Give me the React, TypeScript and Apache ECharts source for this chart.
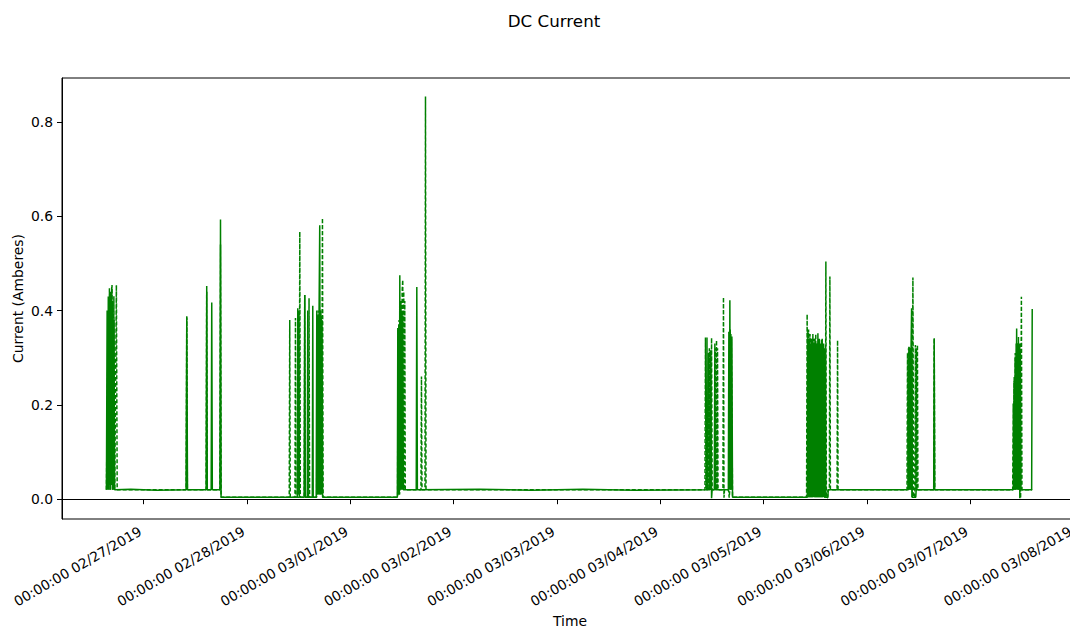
import React, { useEffect, useRef } from "react";
import * as echarts from "echarts";

// ---------- data ----------
const chartTitle = "DC Current";
const xAxisName = "Time";
const yAxisName = "Current (Amberes)";

const xTickDates = [
  "2019-02-27 00:00", "2019-02-28 00:00", "2019-03-01 00:00", "2019-03-02 00:00",
  "2019-03-03 00:00", "2019-03-04 00:00", "2019-03-05 00:00", "2019-03-06 00:00",
  "2019-03-07 00:00", "2019-03-08 00:00",
];
const xRange = ["2019-02-26 05:01", "2019-03-08 01:01"];
const yTicks = [0, 0.2, 0.4, 0.6, 0.8];
const yRange = [-0.042, 0.893];

// solid series: [time, current]
const solidPoints: [string, number][] = [
  ["2019-02-26 15:20", 0.02], ["2019-02-26 15:30", 0.40], ["2019-02-26 15:38", 0.02],
  ["2019-02-26 15:46", 0.43], ["2019-02-26 15:54", 0.03], ["2019-02-26 16:02", 0.41],
  ["2019-02-26 16:10", 0.02], ["2019-02-26 16:18", 0.44], ["2019-02-26 16:26", 0.03],
  ["2019-02-26 16:34", 0.45], ["2019-02-26 16:42", 0.02], ["2019-02-26 16:50", 0.42],
  ["2019-02-26 16:58", 0.02], ["2019-02-26 17:06", 0.38], ["2019-02-26 17:14", 0.02],
  ["2019-02-26 21:00", 0.021], ["2019-02-27 03:00", 0.019], ["2019-02-27 09:50", 0.02],
  ["2019-02-27 10:00", 0.388], ["2019-02-27 10:10", 0.02], ["2019-02-27 14:30", 0.02],
  ["2019-02-27 14:38", 0.44], ["2019-02-27 14:46", 0.02], ["2019-02-27 15:40", 0.02],
  ["2019-02-27 15:48", 0.417], ["2019-02-27 15:56", 0.02], ["2019-02-27 17:42", 0.02],
  ["2019-02-27 17:50", 0.593], ["2019-02-27 17:58", 0.004],
  ["2019-02-28 11:40", 0.004], ["2019-02-28 11:47", 0.405], ["2019-02-28 11:54", 0.01],
  ["2019-02-28 12:02", 0.40], ["2019-02-28 12:10", 0.004], ["2019-02-28 13:16", 0.004],
  ["2019-02-28 13:24", 0.433], ["2019-02-28 13:32", 0.004], ["2019-02-28 14:00", 0.004],
  ["2019-02-28 14:06", 0.40], ["2019-02-28 14:12", 0.004], ["2019-02-28 15:10", 0.004],
  ["2019-02-28 15:16", 0.41], ["2019-02-28 15:22", 0.004], ["2019-02-28 16:04", 0.004],
  ["2019-02-28 16:12", 0.40], ["2019-02-28 16:20", 0.01], ["2019-02-28 16:28", 0.39],
  ["2019-02-28 16:36", 0.01], ["2019-02-28 16:44", 0.40], ["2019-02-28 16:53", 0.581],
  ["2019-02-28 17:01", 0.01], ["2019-02-28 17:09", 0.40], ["2019-02-28 17:17", 0.01],
  ["2019-02-28 17:25", 0.38], ["2019-02-28 17:33", 0.004],
  ["2019-03-01 10:55", 0.004], ["2019-03-01 11:01", 0.363], ["2019-03-01 11:08", 0.01],
  ["2019-03-01 11:15", 0.37], ["2019-03-01 11:22", 0.01], ["2019-03-01 11:29", 0.475],
  ["2019-03-01 11:36", 0.02], ["2019-03-01 11:43", 0.42], ["2019-03-01 11:50", 0.02],
  ["2019-03-01 11:57", 0.40], ["2019-03-01 12:04", 0.02], ["2019-03-01 12:11", 0.39],
  ["2019-03-01 12:18", 0.02], ["2019-03-01 15:18", 0.02], ["2019-03-01 15:26", 0.45],
  ["2019-03-01 15:34", 0.02],
  ["2019-03-02 06:00", 0.021], ["2019-03-02 18:00", 0.019], ["2019-03-03 06:00", 0.021],
  ["2019-03-03 18:00", 0.019],
  ["2019-03-04 10:42", 0.02], ["2019-03-04 10:50", 0.343], ["2019-03-04 10:58", 0.02],
  ["2019-03-04 11:32", 0.02], ["2019-03-04 11:40", 0.316], ["2019-03-04 11:54", 0.002],
  ["2019-03-04 12:02", 0.02], ["2019-03-04 12:32", 0.02], ["2019-03-04 12:40", 0.33],
  ["2019-03-04 12:48", 0.02], ["2019-03-04 15:48", 0.02], ["2019-03-04 15:55", 0.355],
  ["2019-03-04 16:02", 0.02], ["2019-03-04 16:09", 0.422], ["2019-03-04 16:16", 0.02],
  ["2019-03-04 16:23", 0.35], ["2019-03-04 16:30", 0.02], ["2019-03-04 16:37", 0.345],
  ["2019-03-04 16:46", 0.004],
  ["2019-03-05 10:08", 0.004], ["2019-03-05 10:16", 0.358], ["2019-03-05 10:26", 0.004],
  ["2019-03-05 10:36", 0.34], ["2019-03-05 10:46", 0.004], ["2019-03-05 10:56", 0.33],
  ["2019-03-05 11:06", 0.004], ["2019-03-05 11:16", 0.34], ["2019-03-05 11:26", 0.004],
  ["2019-03-05 11:36", 0.33], ["2019-03-05 11:46", 0.004], ["2019-03-05 11:56", 0.34],
  ["2019-03-05 12:06", 0.004], ["2019-03-05 12:16", 0.33], ["2019-03-05 12:26", 0.004],
  ["2019-03-05 12:36", 0.352], ["2019-03-05 12:46", 0.004], ["2019-03-05 12:56", 0.34],
  ["2019-03-05 13:06", 0.004], ["2019-03-05 13:16", 0.33], ["2019-03-05 13:26", 0.004],
  ["2019-03-05 13:36", 0.34], ["2019-03-05 13:46", 0.004], ["2019-03-05 13:56", 0.33],
  ["2019-03-05 14:06", 0.004], ["2019-03-05 14:16", 0.32], ["2019-03-05 14:26", 0.004],
  ["2019-03-05 14:55", 0.004], ["2019-03-05 15:00", 0.02],
  ["2019-03-06 09:36", 0.02], ["2019-03-06 09:44", 0.323], ["2019-03-06 09:52", 0.02],
  ["2019-03-06 10:00", 0.32], ["2019-03-06 10:08", 0.02], ["2019-03-06 10:15", 0.33],
  ["2019-03-06 10:22", 0.405], ["2019-03-06 10:30", 0.004], ["2019-03-06 11:20", 0.004],
  ["2019-03-06 11:26", 0.02], ["2019-03-06 15:30", 0.02], ["2019-03-06 15:37", 0.341],
  ["2019-03-06 15:44", 0.02],
  ["2019-03-07 10:00", 0.02], ["2019-03-07 10:10", 0.25], ["2019-03-07 10:18", 0.02],
  ["2019-03-07 10:26", 0.30], ["2019-03-07 10:34", 0.02], ["2019-03-07 10:46", 0.362],
  ["2019-03-07 10:54", 0.03], ["2019-03-07 11:02", 0.33], ["2019-03-07 11:10", 0.02],
  ["2019-03-07 11:18", 0.32], ["2019-03-07 11:30", 0.002], ["2019-03-07 11:38", 0.31],
  ["2019-03-07 11:46", 0.02], ["2019-03-07 14:15", 0.02], ["2019-03-07 14:23", 0.403],
];

// dashed series: [time, current]
const dashedPoints: [string, number][] = [
  ["2019-02-26 15:20", 0.02], ["2019-02-26 15:40", 0.30], ["2019-02-26 15:50", 0.02],
  ["2019-02-26 16:02", 0.447], ["2019-02-26 16:14", 0.02], ["2019-02-26 16:38", 0.454],
  ["2019-02-26 16:50", 0.02], ["2019-02-26 17:04", 0.43], ["2019-02-26 17:16", 0.02],
  ["2019-02-26 17:39", 0.454], ["2019-02-26 17:50", 0.02],
  ["2019-02-27 09:52", 0.02], ["2019-02-27 10:00", 0.385], ["2019-02-27 10:08", 0.02],
  ["2019-02-27 14:30", 0.02], ["2019-02-27 14:38", 0.452], ["2019-02-27 14:46", 0.02],
  ["2019-02-27 17:42", 0.02], ["2019-02-27 17:50", 0.54], ["2019-02-27 17:58", 0.004],
  ["2019-02-28 09:48", 0.004], ["2019-02-28 09:55", 0.38], ["2019-02-28 10:02", 0.004],
  ["2019-02-28 11:08", 0.004], ["2019-02-28 11:15", 0.384], ["2019-02-28 11:22", 0.004],
  ["2019-02-28 12:08", 0.004], ["2019-02-28 12:15", 0.567], ["2019-02-28 12:22", 0.004],
  ["2019-02-28 13:17", 0.004], ["2019-02-28 13:24", 0.433], ["2019-02-28 13:31", 0.004],
  ["2019-02-28 14:17", 0.004], ["2019-02-28 14:24", 0.426], ["2019-02-28 14:31", 0.004],
  ["2019-02-28 16:10", 0.004], ["2019-02-28 16:17", 0.39], ["2019-02-28 16:24", 0.01],
  ["2019-02-28 16:31", 0.40], ["2019-02-28 16:38", 0.01], ["2019-02-28 16:45", 0.39],
  ["2019-02-28 16:52", 0.01], ["2019-02-28 16:59", 0.40], ["2019-02-28 17:06", 0.01],
  ["2019-02-28 17:13", 0.39], ["2019-02-28 17:20", 0.01], ["2019-02-28 17:31", 0.596],
  ["2019-02-28 17:40", 0.004],
  ["2019-03-01 10:58", 0.004], ["2019-03-01 11:05", 0.36], ["2019-03-01 11:12", 0.01],
  ["2019-03-01 11:19", 0.38], ["2019-03-01 11:26", 0.01], ["2019-03-01 11:33", 0.40],
  ["2019-03-01 11:40", 0.02], ["2019-03-01 11:47", 0.42], ["2019-03-01 11:54", 0.02],
  ["2019-03-01 12:01", 0.44], ["2019-03-01 12:10", 0.465], ["2019-03-01 12:17", 0.02],
  ["2019-03-01 12:24", 0.44], ["2019-03-01 12:31", 0.02], ["2019-03-01 12:38", 0.42],
  ["2019-03-01 12:45", 0.02], ["2019-03-01 16:24", 0.02], ["2019-03-01 16:31", 0.26],
  ["2019-03-01 16:38", 0.02], ["2019-03-01 17:20", 0.02], ["2019-03-01 17:27", 0.854],
  ["2019-03-01 17:34", 0.02],
  ["2019-03-04 10:22", 0.02], ["2019-03-04 10:29", 0.343], ["2019-03-04 10:36", 0.02],
  ["2019-03-04 11:02", 0.02], ["2019-03-04 11:09", 0.31], ["2019-03-04 11:16", 0.02],
  ["2019-03-04 11:23", 0.32], ["2019-03-04 11:30", 0.02], ["2019-03-04 11:37", 0.31],
  ["2019-03-04 11:44", 0.02], ["2019-03-04 11:54", 0.342], ["2019-03-04 12:02", 0.02],
  ["2019-03-04 12:40", 0.02], ["2019-03-04 12:47", 0.32], ["2019-03-04 12:54", 0.02],
  ["2019-03-04 13:03", 0.337], ["2019-03-04 13:10", 0.02], ["2019-03-04 13:17", 0.32],
  ["2019-03-04 13:24", 0.02], ["2019-03-04 14:33", 0.02], ["2019-03-04 14:40", 0.428],
  ["2019-03-04 14:47", 0.003], ["2019-03-04 14:54", 0.02], ["2019-03-04 15:50", 0.02],
  ["2019-03-04 16:00", 0.003], ["2019-03-04 16:08", 0.02], ["2019-03-04 16:14", 0.36],
  ["2019-03-04 16:20", 0.02], ["2019-03-04 16:30", 0.34], ["2019-03-04 16:46", 0.004],
  ["2019-03-05 09:58", 0.004], ["2019-03-05 10:06", 0.392], ["2019-03-05 10:16", 0.004],
  ["2019-03-05 10:26", 0.36], ["2019-03-05 10:36", 0.004], ["2019-03-05 10:46", 0.35],
  ["2019-03-05 10:56", 0.004], ["2019-03-05 11:06", 0.34], ["2019-03-05 11:16", 0.004],
  ["2019-03-05 11:26", 0.35], ["2019-03-05 11:36", 0.004], ["2019-03-05 11:46", 0.34],
  ["2019-03-05 11:56", 0.004], ["2019-03-05 12:06", 0.35], ["2019-03-05 12:16", 0.004],
  ["2019-03-05 12:26", 0.33], ["2019-03-05 12:36", 0.004], ["2019-03-05 12:46", 0.34],
  ["2019-03-05 12:56", 0.004], ["2019-03-05 13:06", 0.33], ["2019-03-05 13:16", 0.004],
  ["2019-03-05 13:26", 0.34], ["2019-03-05 13:36", 0.004], ["2019-03-05 13:46", 0.32],
  ["2019-03-05 13:56", 0.004], ["2019-03-05 14:20", 0.004], ["2019-03-05 14:27", 0.504],
  ["2019-03-05 14:34", 0.003], ["2019-03-05 14:50", 0.003], ["2019-03-05 14:57", 0.02],
  ["2019-03-05 15:16", 0.02], ["2019-03-05 15:23", 0.472], ["2019-03-05 15:30", 0.02],
  ["2019-03-05 17:03", 0.02], ["2019-03-05 17:10", 0.337], ["2019-03-05 17:17", 0.02],
  ["2019-03-06 09:18", 0.02], ["2019-03-06 09:25", 0.31], ["2019-03-06 09:32", 0.02],
  ["2019-03-06 09:39", 0.32], ["2019-03-06 09:46", 0.02], ["2019-03-06 09:53", 0.323],
  ["2019-03-06 10:00", 0.02], ["2019-03-06 10:07", 0.32], ["2019-03-06 10:14", 0.02],
  ["2019-03-06 10:21", 0.31], ["2019-03-06 10:28", 0.004], ["2019-03-06 10:40", 0.47],
  ["2019-03-06 10:50", 0.004], ["2019-03-06 11:08", 0.004], ["2019-03-06 11:15", 0.327],
  ["2019-03-06 11:22", 0.02], ["2019-03-06 11:29", 0.32], ["2019-03-06 11:36", 0.02],
  ["2019-03-06 11:43", 0.327], ["2019-03-06 11:50", 0.02], ["2019-03-06 15:30", 0.02],
  ["2019-03-06 15:37", 0.341], ["2019-03-06 15:44", 0.02],
  ["2019-03-07 09:51", 0.02], ["2019-03-07 09:58", 0.203], ["2019-03-07 10:05", 0.02],
  ["2019-03-07 10:12", 0.26], ["2019-03-07 10:19", 0.02], ["2019-03-07 10:26", 0.31],
  ["2019-03-07 10:33", 0.02], ["2019-03-07 10:40", 0.33], ["2019-03-07 10:47", 0.02],
  ["2019-03-07 10:54", 0.33], ["2019-03-07 11:01", 0.02], ["2019-03-07 11:11", 0.344],
  ["2019-03-07 11:20", 0.02], ["2019-03-07 11:30", 0.33], ["2019-03-07 11:41", 0.002],
  ["2019-03-07 11:52", 0.429], ["2019-03-07 12:00", 0.02], ["2019-03-07 14:23", 0.02],
];

// ---------- helpers ----------
function ts(s: string): number {
  const [d, t] = s.split(" ");
  const [y, m, dd] = d.split("-").map(Number);
  const [hh, mi] = (t || "00:00").split(":").map(Number);
  return new Date(y, m - 1, dd, hh, mi).getTime();
}
const pad = (n: number) => (n < 10 ? "0" + n : "" + n);
function fmtTime(v: number): string {
  const d = new Date(v);
  return `${pad(d.getHours())}:${pad(d.getMinutes())}:${pad(d.getSeconds())} ${pad(
    d.getMonth() + 1
  )}/${pad(d.getDate())}/${d.getFullYear()}`;
}

const FONT = "DejaVu Sans";
const GREEN = "#008000";

export default function App() {
  const ref = useRef<HTMLDivElement>(null);
  useEffect(() => {
    if (!ref.current) return;
    const chart = echarts.init(ref.current, undefined, { renderer: "svg" });
    const xTicks = xTickDates.map(ts);
    chart.setOption({
      animation: false,
      backgroundColor: "#fff",
      textStyle: { fontFamily: FONT },
      graphic: [
        {
          type: "text",
          x: 554,
          y: 21,
          style: {
            text: chartTitle,
            fontSize: 16.7,
            fontFamily: FONT,
            fill: "#000",
            textAlign: "center",
            textVerticalAlign: "middle",
          },
        },
      ],
      grid: {
        left: 62,
        right: 2,
        top: 78,
        bottom: 109,
        containLabel: false,
        outerBoundsMode: "none",
        show: true,
        borderColor: "#000",
        borderWidth: 1,
        backgroundColor: "transparent",
      },
      xAxis: {
        type: "value",
        min: ts(xRange[0]),
        max: ts(xRange[1]),
        scale: true,
        name: xAxisName,
        nameLocation: "middle",
        nameGap: 95,
        nameMoveOverlap: false,
        nameTextStyle: { fontSize: 13.9, color: "#000", fontFamily: FONT },
        axisLine: { show: true, lineStyle: { color: "#000", width: 1 } },
        axisTick: {
          show: true,
          length: 5,
          inside: false,
          customValues: xTicks,
          lineStyle: { color: "#000", width: 1 },
        },
        axisLabel: {
          customValues: xTicks,
          rotate: 30,
          margin: 9,
          padding: [0, 4, 0, 0],
          hideOverlap: false,
          fontSize: 13.7,
          color: "#000",
          fontFamily: FONT,
          formatter: (v: number) => fmtTime(v),
        },
        splitLine: { show: false },
      },
      yAxis: {
        type: "value",
        min: yRange[0],
        max: yRange[1],
        name: yAxisName,
        nameLocation: "middle",
        nameGap: 37,
        nameMoveOverlap: false,
        nameTextStyle: { fontSize: 13.9, color: "#000", fontFamily: FONT },
        axisLine: { show: true, lineStyle: { color: "#000", width: 1 } },
        axisTick: {
          show: true,
          length: 5,
          inside: false,
          customValues: yTicks,
          lineStyle: { color: "#000", width: 1 },
        },
        axisLabel: {
          customValues: yTicks,
          margin: 9,
          fontSize: 13.9,
          color: "#000",
          fontFamily: FONT,
          formatter: (v: number) => v.toFixed(1),
        },
        splitLine: { show: false },
      },
      series: [
        {
          type: "line",
          name: "solid",
          data: solidPoints.map(([t, v]) => [ts(t), v]),
          showSymbol: false,
          symbol: "none",
          lineStyle: { color: GREEN, width: 1.5, type: "solid" },
          itemStyle: { color: GREEN },
          z: 2,
        },
        {
          type: "line",
          name: "dashed",
          data: dashedPoints.map(([t, v]) => [ts(t), v]),
          showSymbol: false,
          symbol: "none",
          lineStyle: { color: GREEN, width: 1.5, type: [4, 2] },
          itemStyle: { color: GREEN },
          z: 3,
        },
      ],
    });
    return () => chart.dispose();
  }, []);
  return (
    <div style={{ position: "fixed", left: 0, top: 0, width: 1070, height: 628, overflow: "hidden", background: "#fff" }}>
      <div ref={ref} style={{ width: 1080, height: 628 }} />
    </div>
  );
}
